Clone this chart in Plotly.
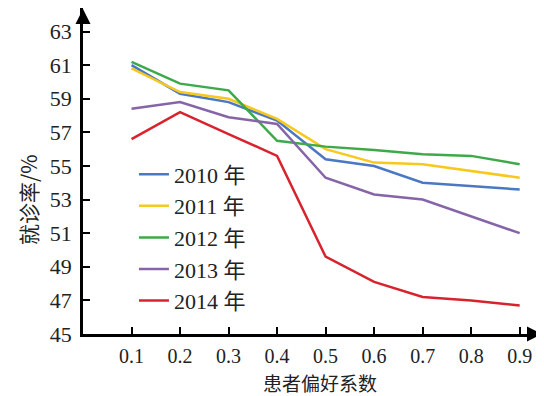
import plotly.graph_objects as go

x_vals = [0.1, 0.2, 0.3, 0.4, 0.5, 0.6, 0.7, 0.8, 0.9]
series_names = ["2010 年", "2011 年", "2012 年", "2013 年", "2014 年"]
y_2010 = [61.0, 59.3, 58.8, 57.7, 55.4, 55.0, 54.0, 53.8, 53.6]
y_2011 = [60.8, 59.4, 59.0, 57.8, 56.0, 55.2, 55.1, 54.7, 54.3]
y_2012 = [61.2, 59.9, 59.5, 56.5, 56.15, 55.95, 55.7, 55.6, 55.1]
y_2013 = [58.4, 58.8, 57.9, 57.5, 54.3, 53.3, 53.0, 52.0, 51.0]
y_2014 = [56.6, 58.2, 56.9, 55.6, 49.6, 48.1, 47.2, 47.0, 46.7]
y_ticks = [45, 47, 49, 51, 53, 55, 57, 59, 61, 63]
x_ticks = [0.1, 0.2, 0.3, 0.4, 0.5, 0.6, 0.7, 0.8, 0.9]
x_title = "患者偏好系数"
y_title = "就诊率/%"

series = [y_2010, y_2011, y_2012, y_2013, y_2014]
colors = ["#4A78C2", "#F7C81E", "#3EA94A", "#8664A8", "#D8232E"]

fig = go.Figure()
for name, ys, c in zip(series_names, series, colors):
    fig.add_trace(go.Scatter(x=x_vals, y=ys, mode="lines", name=name,
                             line=dict(color=c, width=2.5)))

serif = "Liberation Serif, Times New Roman, serif"
cjk = "Noto Sans CJK SC"

# page has an 8px body margin; the figure is sized to fit inside the window
W, H = 536, 388
PL, PT, PW, PH = 75, 0, 459, 326

fig.update_layout(
    width=W, height=H,
    margin=dict(l=PL, r=W - PL - PW, t=PT, b=H - PT - PH, autoexpand=False),
    paper_bgcolor="white", plot_bgcolor="white",
    showlegend=True,
    legend=dict(x=0.111, y=0.554, xanchor="left", yanchor="top",
                bgcolor="rgba(0,0,0,0)",
                font=dict(family=serif + ", " + cjk, size=22, color="#222"),
                tracegroupgap=0),
    xaxis=dict(range=[0, 0.946], tickvals=x_ticks, ticktext=[str(v) for v in x_ticks],
               ticks="inside", ticklen=7, tickwidth=2, tickcolor="black",
               showline=True, linecolor="black", linewidth=2.5, showgrid=False, zeroline=False,
               automargin=False, ticklabelstandoff=2,
               tickfont=dict(family=serif, size=20, color="#222")),
    yaxis=dict(range=[45, 64.4], tickvals=y_ticks,
               ticks="inside", ticklen=7, tickwidth=2, tickcolor="black",
               showline=True, linecolor="black", linewidth=2.5, showgrid=False, zeroline=False,
               automargin=False, ticklabelstandoff=4,
               tickfont=dict(family=serif, size=22, color="#222")),
)

# axis titles (positions given in page pixels, converted to paper units)
def px(xp):
    return (xp - 8 - PL) / PW

def py(yp):
    return (PT + PH - (yp - 8)) / PH

fig.add_annotation(x=px(320), y=py(382), xref="paper", yref="paper", text=x_title,
                   showarrow=False, xanchor="center", yanchor="middle",
                   font=dict(family=cjk, size=19, color="#222"))
fig.add_annotation(x=px(28), y=py(200), xref="paper", yref="paper",
                   text=y_title, showarrow=False, textangle=-90,
                   xanchor="center", yanchor="middle",
                   font=dict(family=cjk, size=21, color="#222"))

# axis arrowheads
fig.add_annotation(x=1.0, y=0, xref="paper", yref="paper", ax=-14, ay=0,
                   showarrow=True, arrowhead=2, arrowsize=1.2, arrowwidth=2.5,
                   arrowcolor="black", text="")
fig.add_annotation(x=0, y=1.0, xref="paper", yref="paper", ax=0, ay=14,
                   showarrow=True, arrowhead=2, arrowsize=1.2, arrowwidth=2.5,
                   arrowcolor="black", text="")

fig.write_html("out.html")
